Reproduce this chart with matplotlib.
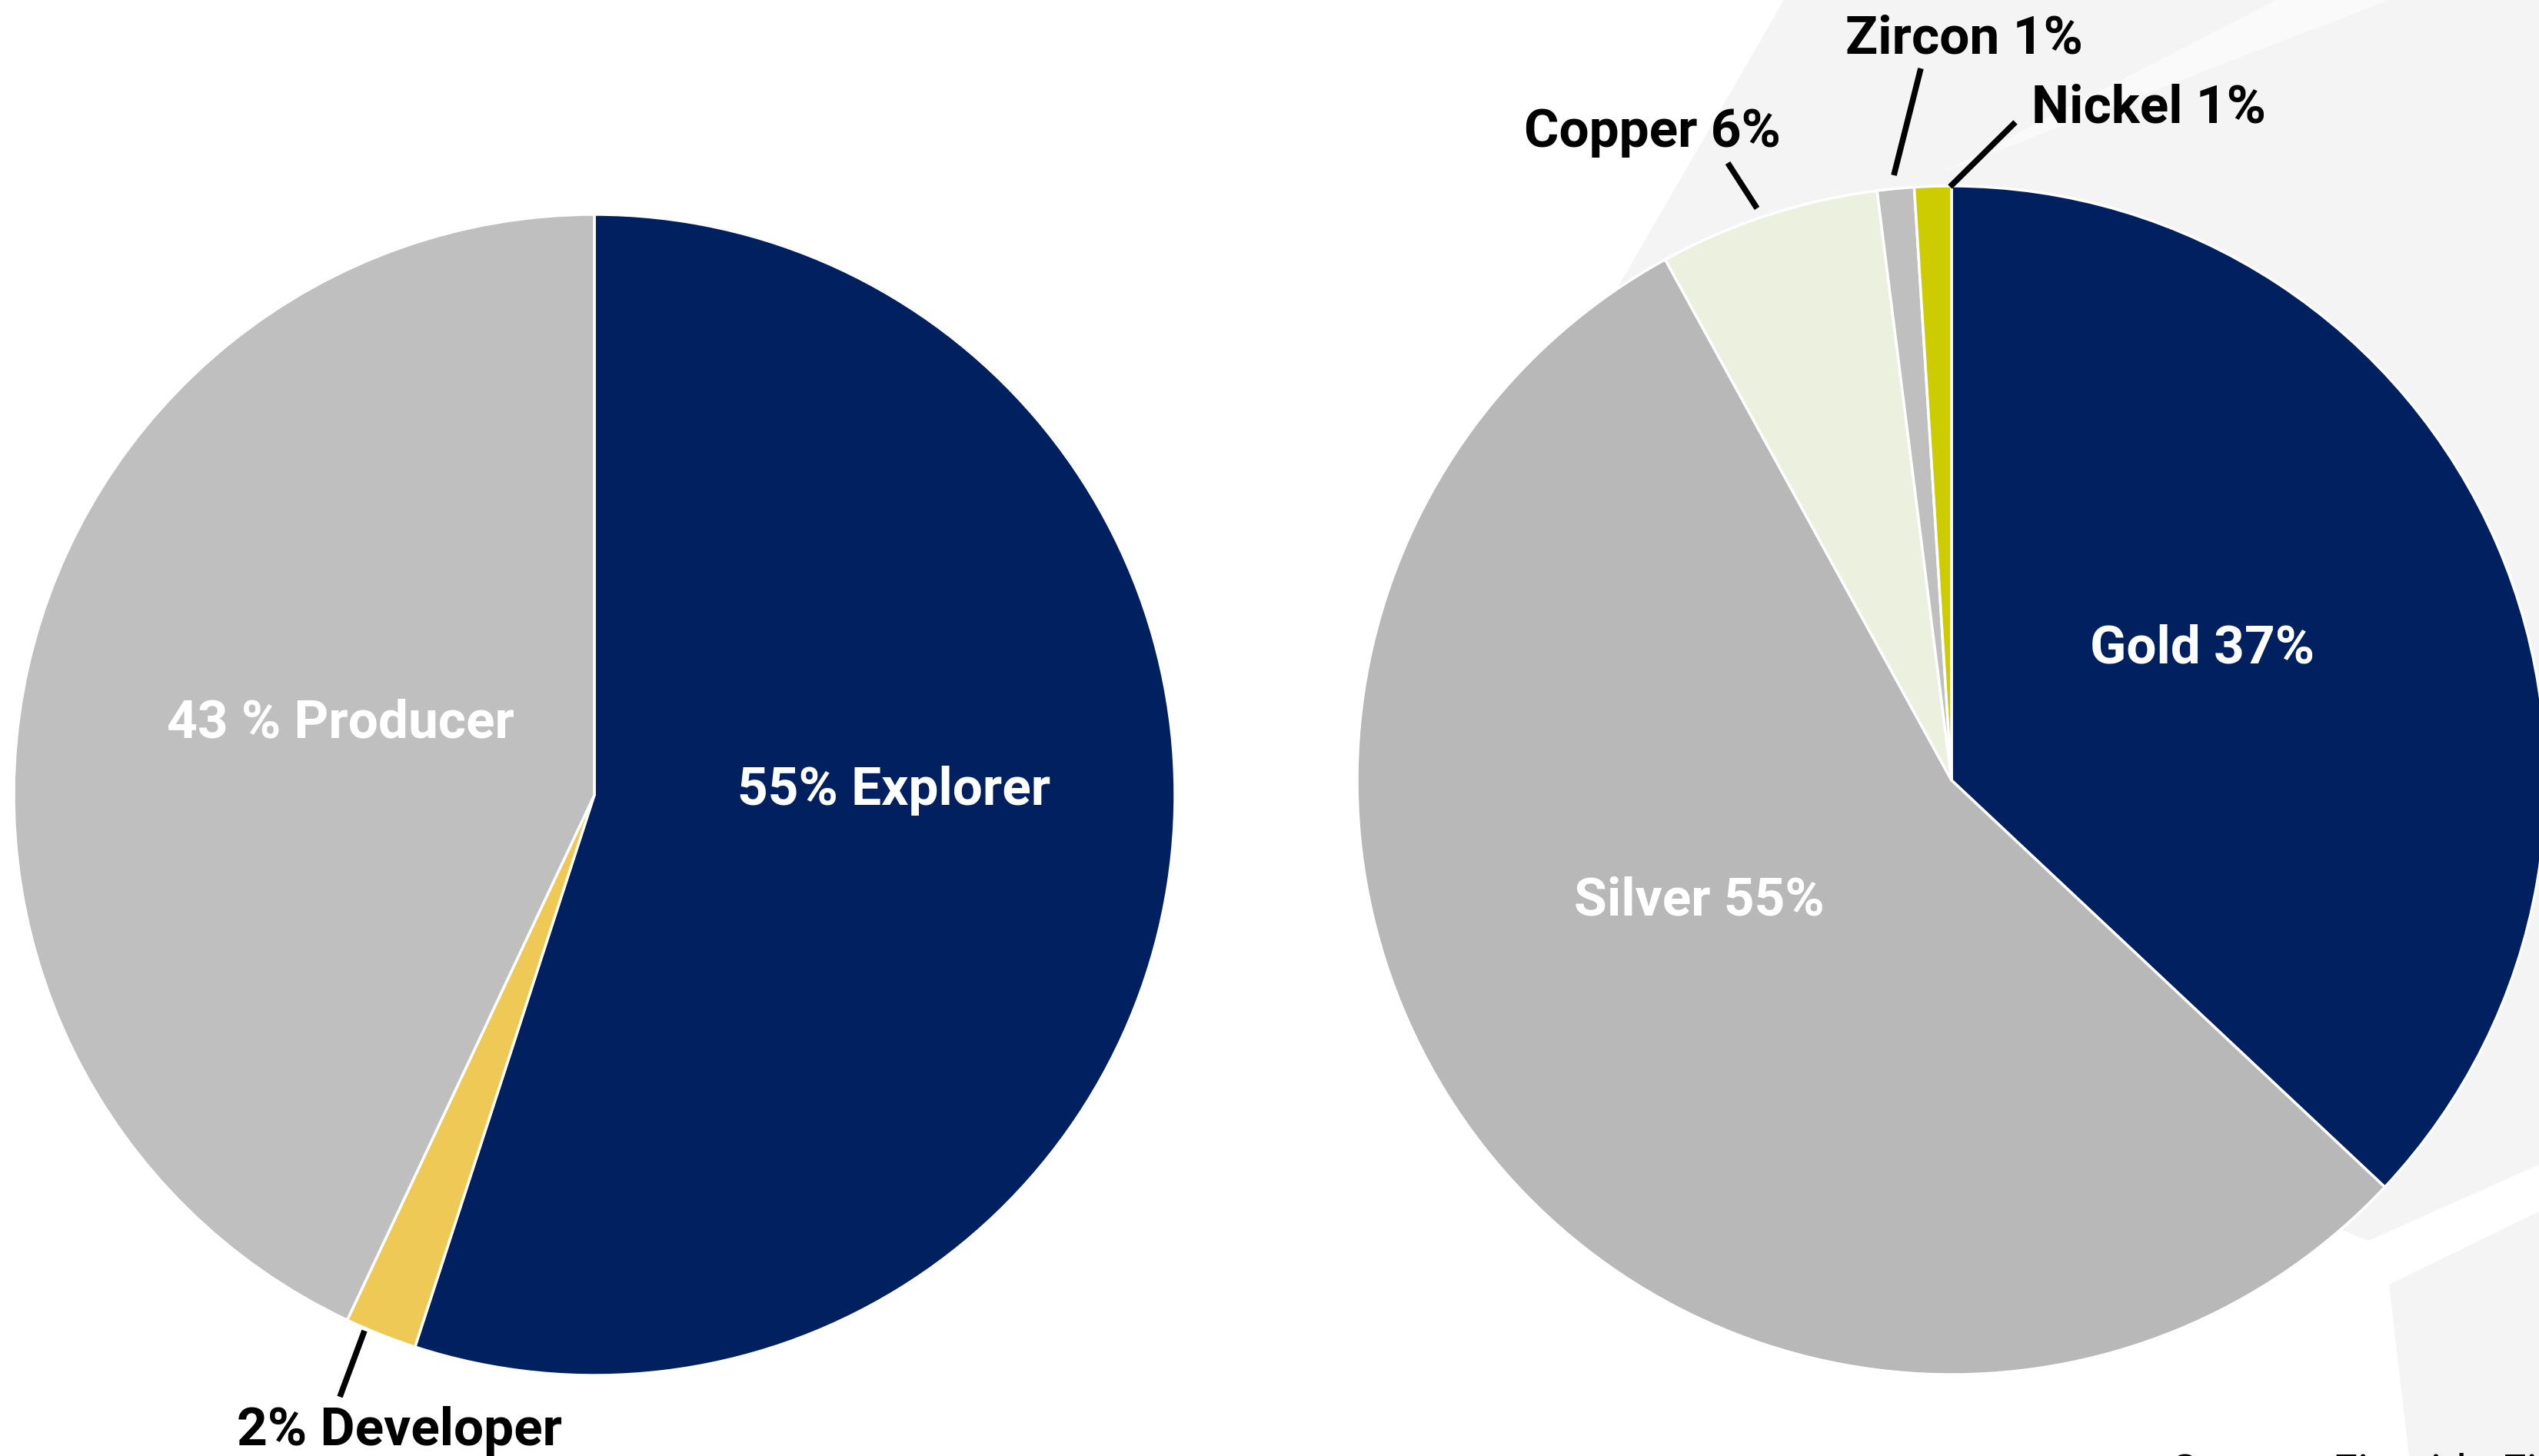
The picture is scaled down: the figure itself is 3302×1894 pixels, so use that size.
import matplotlib
matplotlib.use("Agg")
import matplotlib.pyplot as plt
from matplotlib.patches import Polygon

# 画像サイズ (px)
W = 3302
H = 1894

# 左の円グラフ : 企業の段階
stage_labels = ["55% Explorer", "2% Developer", "43 % Producer"]
stage_values = [55, 2, 43]
stage_colors = ["#002060", "#EFC955", "#BFBFBF"]

# 右の円グラフ : 鉱物
metal_labels = ["Gold 37%", "Silver 55%", "Copper 6%", "Zircon 1%", "Nickel 1%"]
metal_values = [37, 55, 6, 1, 1]
metal_colors = ["#002060", "#B8B8B8", "#EBF0DF", "#BFBFBF", "#CCCC00"]

plt.rcParams['font.family'] = ['Roboto', 'DejaVu Sans']

fig = plt.figure(figsize=(W / 100, H / 100), dpi=100)
fig.patch.set_facecolor("white")
ax = fig.add_axes([0, 0, 1, 1])


def py(y):
    # 画像の上からの座標 -> データ座標
    return H - y


# 背景の薄いグレーの図形
bg = "#F4F4F4"
ax.add_patch(Polygon([(2320, py(0)), (3302, py(0)), (3302, py(1515)), (3080, py(1614)),
                      (2950, py(1560)), (2700, py(1200)), (1800, py(900))],
                     closed=True, facecolor=bg, edgecolor="none", zorder=0))
ax.add_patch(Polygon([(2526, py(224)), (2960, py(0)), (3107, py(0))],
                     closed=True, facecolor="#FAFAFA", edgecolor="none", zorder=0))
ax.add_patch(Polygon([(3107, py(1671)), (3302, py(1576)), (3302, py(1894)), (3133, py(1894))],
                     closed=True, facecolor=bg, edgecolor="none", zorder=0))

wedge_style = dict(edgecolor="white", linewidth=2.5)

ax.pie(stage_values, colors=stage_colors, startangle=90, counterclock=False,
       center=(773, py(1034)), radius=755, wedgeprops=wedge_style, frame=True)
ax.pie(metal_values, colors=metal_colors, startangle=90, counterclock=False,
       center=(2538, py(1015)), radius=773, wedgeprops=wedge_style, frame=True)

ax.set_xlim(0, W)
ax.set_ylim(0, H)
ax.set_aspect("auto")
ax.axis("off")

fs = 50
# 円の中の白い文字
white_pos = {
    "55% Explorer": (1163, 1047),
    "43 % Producer": (443, 959),
    "Gold 37%": (2864, 862),
    "Silver 55%": (2210, 1190),
}
# 外側の黒い文字と引き出し線
black_pos = {
    "2% Developer": ((520, 1880), (474, 1731), (442, 1817)),
    "Copper 6%": ((2149, 191), (2285, 271), (2247, 212)),
    "Zircon 1%": ((2554, 69), (2463, 228), (2498, 89)),
    "Nickel 1%": ((2795, 159), (2536, 243), (2621, 159)),
}

for lab in stage_labels + metal_labels:
    if lab in white_pos:
        x, y = white_pos[lab]
        ax.text(x, py(y), lab, color="white", fontsize=fs, fontweight="bold",
                ha="center", va="baseline")
    else:
        (x, y), p0, p1 = black_pos[lab]
        ax.text(x, py(y), lab, color="black", fontsize=fs, fontweight="bold",
                ha="center", va="baseline")
        ax.plot([p0[0], p1[0]], [py(p0[1]), py(p1[1])], color="black",
                linewidth=5.5, solid_capstyle="butt")

# 下の出典 (画像の端で切れている)
ax.text(2824, py(1932), "Source: Fireside Financial", color="black", fontsize=42,
        ha="left", va="baseline")

fig.savefig("out.png", dpi=100, facecolor="white")
